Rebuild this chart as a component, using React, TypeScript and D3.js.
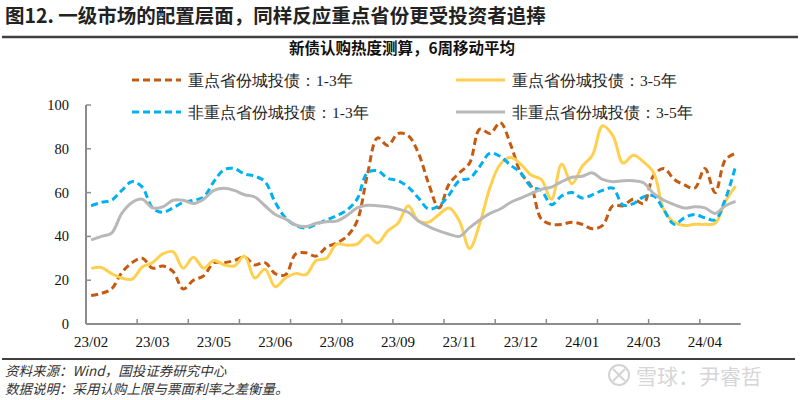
import React from "react";
import * as d3 from "d3";

// ---- data (weekly, 6-week moving average) ----
const xLabels = ["23/02", "23/03", "23/05", "23/06", "23/08", "23/09", "23/11", "23/12", "24/01", "24/03", "24/04"];
const labelEvery = 6;
const tickEvery = 5;

const keyShort = [13, 14, 16, 23.5, 28, 30, 25.5, 26.5, 24, 16, 20, 22, 28, 28, 29, 30.5, 27, 28, 23, 22.5, 32, 32.5, 31, 35, 37, 40, 47, 68, 85, 81.5, 87, 86, 78, 64, 53, 64, 69, 73.5, 89, 87, 92, 82, 69, 63, 48, 45.5, 45.5, 46.5, 45.5, 43.5, 45, 54, 54, 57, 55, 68, 71, 66, 63.5, 62, 71, 60, 75, 78];
const keyLong = [25.4, 25.8, 23, 21, 20.5, 26, 28, 32, 33, 25.5, 30.5, 25.5, 29, 27, 26.5, 31, 21, 25, 17, 21, 23, 22.5, 29, 30, 36.5, 36, 36.5, 40.5, 37, 42.5, 46, 54, 47, 46.5, 50, 53, 47, 34.5, 46, 62.5, 73, 76, 73, 68, 66, 57, 73, 64, 72, 77, 90.5, 86, 73.5, 77, 74, 69, 52, 46.5, 45, 45.5, 45.5, 46, 56, 63];
const otherShort = [54, 55.5, 56.5, 61, 65, 62.5, 53, 51, 53, 55.5, 56.5, 58, 65, 70.5, 71, 68.5, 67.5, 65, 55.5, 48.5, 45, 43.8, 45.5, 47.5, 49.5, 52, 57, 69, 70, 66.5, 65.5, 62.5, 57.5, 52.5, 54, 59, 65.5, 66.5, 72, 78, 76.5, 72.5, 69, 62.7, 61, 54.5, 58.5, 60, 57.5, 59, 61, 62, 54.3, 55, 58, 58.5, 52, 45.5, 48.5, 50, 48.5, 47.5, 57, 72];
const otherLong = [38.4, 40, 41.5, 50.5, 55.5, 57, 53, 53.5, 56.5, 56.5, 55, 57, 61, 62, 61, 59, 58, 54, 50, 48, 45.2, 44.5, 46, 46.7, 47, 49.5, 53, 54.2, 54, 53.5, 52.5, 51, 47, 44.5, 42.5, 41, 40, 44, 47.5, 50.5, 52.5, 55.5, 57.5, 59.5, 61.5, 62.5, 65, 67, 67.5, 69, 66, 65, 65.4, 65.4, 64.5, 59.5, 56.5, 54.5, 53, 53.5, 53, 50.5, 54, 56];

const seriesNames = ["重点省份城投债：1-3年", "重点省份城投债：3-5年", "非重点省份城投债：1-3年", "非重点省份城投债：3-5年"];
const yTicks = [0, 20, 40, 60, 80, 100];

const series = [
  { name: seriesNames[0], values: keyShort, color: "#C55A11", dash: "7,4" },
  { name: seriesNames[1], values: keyLong, color: "#FFD04F", dash: null },
  { name: seriesNames[2], values: otherShort, color: "#00B0F0", dash: "7,4" },
  { name: seriesNames[3], values: otherLong, color: "#B8B8B8", dash: null },
];

export default function App() {
  const W = 800, H = 400;
  const n = keyShort.length;
  const x = d3.scaleBand<number>().domain(d3.range(n)).range([86, 740.7]).padding(0);
  const cx = (i: number) => (x(i) as number) + x.bandwidth() / 2;
  const y = d3.scaleLinear().domain([0, 100]).range([324, 105]);
  const line = d3
    .line<number>()
    .x((_, i) => cx(i))
    .y((d) => y(d))
    .curve(d3.curveCatmullRom.alpha(0.5));

  const tickIdx = d3.range(tickEvery, n + 1, tickEvery).filter((i) => i < n);
  const legendPos = [
    { lx: 132, ly: 80 },
    { lx: 456, ly: 80 },
    { lx: 132, ly: 112 },
    { lx: 456, ly: 112 },
  ];
  const serif = "'Liberation Serif', 'Times New Roman', serif";
  const cjk = "'Noto Sans CJK SC', sans-serif";

  return (
    <svg width={W} height={H} style={{ position: "absolute", left: 0, top: 0, background: "#fff" }}>
      <rect x={0} y={0} width={W} height={H} fill="#fff" />
      {/* header */}
      <text x={5} y={23} fontFamily={cjk} fontSize={19.5} fontWeight="bold" fill="#222">
        图12. 一级市场的配置层面，同样反应重点省份更受投资者追捧
      </text>
      <line x1={2} x2={798} y1={37} y2={37} stroke="#404040" strokeWidth={2.5} />
      <text x={402} y={54} textAnchor="middle" fontFamily={cjk} fontSize={15.5} fontWeight="bold" fill="#111">
        新债认购热度测算，6周移动平均
      </text>

      {/* legend */}
      {series.map((s, k) => (
        <g key={s.name}>
          <line
            x1={legendPos[k].lx}
            x2={legendPos[k].lx + 49}
            y1={legendPos[k].ly}
            y2={legendPos[k].ly}
            stroke={s.color}
            strokeWidth={3}
            strokeDasharray={s.dash ?? undefined}
          />
          <text
            x={legendPos[k].lx + 56}
            y={legendPos[k].ly}
            dominantBaseline="central"
            fontFamily={serif}
            fontSize={15.5}
            fill="#222"
          >
            {s.name}
          </text>
        </g>
      ))}

      {/* y axis */}
      <line x1={86} x2={86} y1={y(100)} y2={y(0)} stroke="#8c8c8c" strokeWidth={2} />
      {yTicks.map((t) => (
        <g key={t}>
          <line x1={86} x2={91} y1={y(t)} y2={y(t)} stroke="#8c8c8c" strokeWidth={1.5} />
          <text x={69} y={y(t)} dominantBaseline="central" textAnchor="end" fontFamily={serif} fontSize={14.5} fill="#111">
            {t}
          </text>
        </g>
      ))}

      {/* x axis */}
      <line x1={86} x2={740.7} y1={y(0)} y2={y(0)} stroke="#8c8c8c" strokeWidth={2} />
      {tickIdx.map((i) => (
        <line key={i} x1={x(i) as number} x2={x(i) as number} y1={y(0)} y2={y(0) - 5} stroke="#8c8c8c" strokeWidth={1.5} />
      ))}
      {xLabels.map((lab, k) => (
        <text key={lab} x={cx(k * labelEvery)} y={342} dominantBaseline="central" textAnchor="middle" fontFamily={serif} fontSize={15} fill="#111">
          {lab}
        </text>
      ))}

      {/* series */}
      {series.map((s) => (
        <path
          key={s.name}
          d={line(s.values) ?? ""}
          fill="none"
          stroke={s.color}
          strokeWidth={3}
          strokeDasharray={s.dash ?? undefined}
          strokeLinejoin="round"
        />
      ))}

      {/* footer */}
      <line x1={2} x2={795} y1={359} y2={359} stroke="#404040" strokeWidth={2} />
      <text x={5} y={370} dominantBaseline="central" fontFamily={cjk} fontStyle="italic" fontSize={13.5} fill="#333">
        资料来源：Wind，国投证券研究中心
      </text>
      <text x={5} y={388} dominantBaseline="central" fontFamily={cjk} fontStyle="italic" fontSize={13.5} fill="#333">
        数据说明：采用认购上限与票面利率之差衡量。
      </text>

      {/* watermark */}
      <g opacity={0.9}>
        <circle cx={619} cy={375} r={10} fill="none" stroke="#cfcfcf" strokeWidth={2} />
        <path d="M613,369 L625,381 M625,369 L613,381" stroke="#cfcfcf" strokeWidth={2} fill="none" />
        <text x={636} y={375} dominantBaseline="central" fontFamily={cjk} fontSize={21} fill="#d2d2d2">
          雪球：尹睿哲
        </text>
      </g>
    </svg>
  );
}
